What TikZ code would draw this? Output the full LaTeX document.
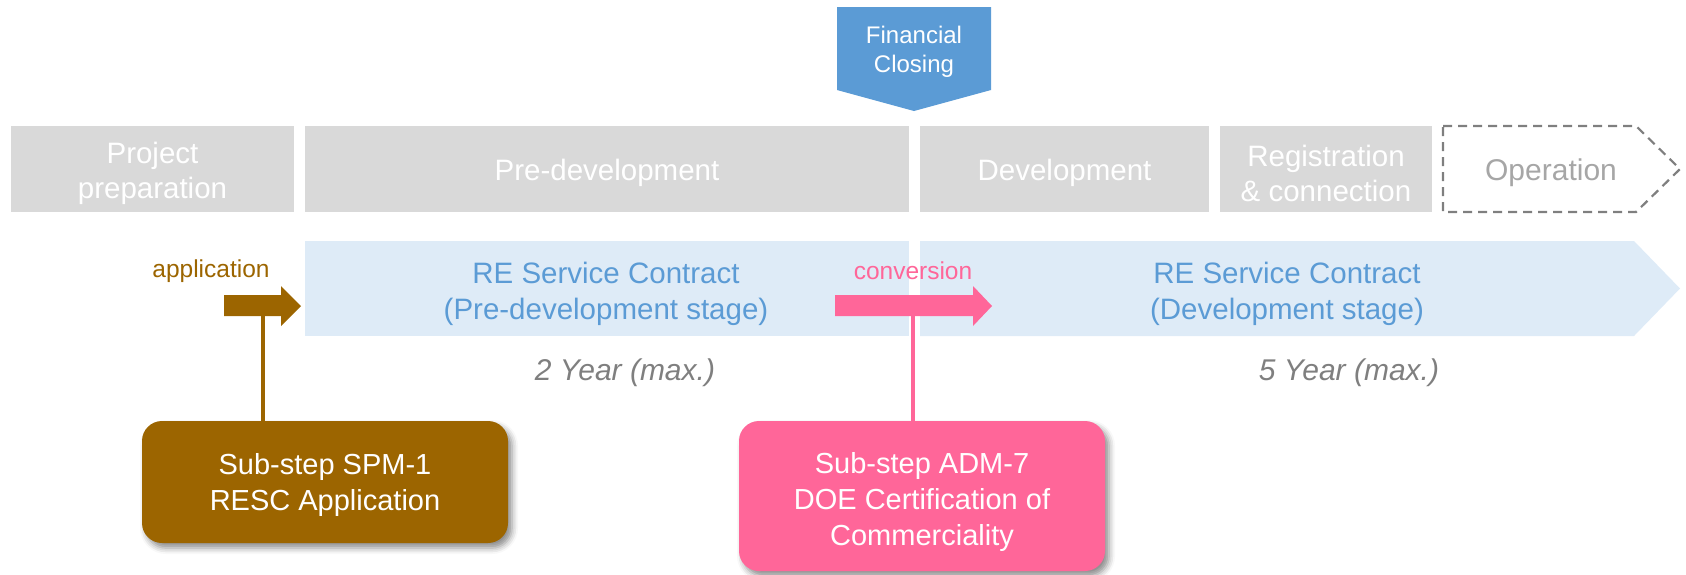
\documentclass[tikz,border=0pt]{standalone}
\usepackage{fontspec}
\setmainfont{Liberation Sans}
\usetikzlibrary{shadows.blur}
\definecolor{phgray}{HTML}{D9D9D9}
\definecolor{opgray}{HTML}{A6A6A6}
\definecolor{dashgray}{HTML}{7F7F7F}
\definecolor{bandblue}{HTML}{DEEBF7}
\definecolor{txtblue}{HTML}{5B9BD5}
\definecolor{fcblue}{HTML}{5B9BD5}
\definecolor{spmbrown}{HTML}{9C6500}
\definecolor{admpink}{HTML}{FF6699}
\definecolor{yeargray}{HTML}{7F7F7F}
\tikzset{
  phase/.style={fill=phgray, minimum height=86pt, inner sep=0pt},
  phasetext/.style={text=white, align=center, font=\fontsize{29.5}{35}\selectfont},
  bandtext/.style={text=txtblue, align=center, font=\fontsize{29.5}{36}\selectfont},
  yeartext/.style={text=yeargray, font=\fontsize{30}{34}\selectfont\itshape},
  steplabel/.style={font=\fontsize{24.5}{28}\selectfont},
  substep/.style={rounded corners=20pt, text=white, align=center, inner sep=0pt,
    font=\fontsize{29}{36}\selectfont,
    blur shadow={shadow xshift=4pt, shadow yshift=-5pt, shadow blur radius=6pt, shadow opacity=45}},
  leader/.style={line width=3.2pt}
}
\begin{document}
\begin{tikzpicture}[x=1pt,y=-1pt]
\useasboundingbox (0,0) rectangle (1686,574);

% Financial closing pentagon
\fill[fcblue] (837,7) -- (991,7) -- (991,90) -- (914,111) -- (837,90) -- cycle;
\node[text=white, align=center, font=\fontsize{24}{29}\selectfont] (fc) at (914,52) {Financial\\Closing};

% phases
\node[phase, minimum width=283pt] (prep) at (152.5,169) {};
\node[phasetext] (prept) at (152.5,173) {Project\\preparation};
\node[phase, minimum width=604pt] (predev) at (607,169) {};
\node[phasetext] (predevt) at (607,173) {Pre-development};
\node[phase, minimum width=289pt] (dev) at (1064.5,169) {};
\node[phasetext] (devt) at (1064.5,173) {Development};
\node[phase, minimum width=212pt] (reg) at (1326,169) {};
\node[phasetext] (regt) at (1326,173) {Registration\\\& connection};
\draw[dashgray, line width=2.2pt, dash pattern=on 9pt off 6pt]
  (1443,126) -- (1636,126) -- (1680,169) -- (1636,212) -- (1443,212) -- cycle;
\node[text=opgray, font=\fontsize{30}{35}\selectfont] (op) at (1551,173) {Operation};

% contract bands
\fill[bandblue] (305,241) rectangle (909,336);
\fill[bandblue] (920,241) -- (1634,241) -- (1680,288.5) -- (1634,336) -- (920,336) -- cycle;
\node[bandtext] (c1) at (606,294) {RE Service Contract\\(Pre-development stage)};
\node[bandtext] (c2) at (1287,294) {RE Service Contract\\(Development stage)};

\node[yeartext] (y1) at (625,373) {2 Year (max.)};
\node[yeartext] (y2) at (1349,373) {5 Year (max.)};

% application arrow
\fill[spmbrown] (224,295) -- (281,295) -- (281,286) -- (301,306) -- (281,326) -- (281,316) -- (224,316) -- cycle;
\coordinate (appfoot) at (263,316);
\node[steplabel, text=spmbrown] (applbl) at (211,271) {application};

% conversion arrow
\fill[admpink] (835,295) -- (973,295) -- (973,286) -- (992,306) -- (973,326) -- (973,316) -- (835,316) -- cycle;
\coordinate (convfoot) at (913,316);
\node[steplabel, text=admpink] (convlbl) at (913,271) {conversion};

% sub-step boxes
\node[substep, fill=spmbrown, minimum width=366pt, minimum height=122pt] (spm) at (325,482) {};
\node[text=white, align=center, font=\fontsize{29}{36}\selectfont] (spmt) at (325,485) {Sub-step SPM-1\\RESC Application};
\node[substep, fill=admpink, minimum width=366pt, minimum height=150pt] (adm) at (922,496) {};
\node[text=white, align=center, font=\fontsize{29}{36}\selectfont] (admt) at (922,502) {Sub-step ADM-7\\DOE Certification of\\Commerciality};

% leaders
\draw[leader, spmbrown] (spm.north -| appfoot) -- (appfoot);
\draw[leader, admpink] (adm.north -| convfoot) -- (convfoot);
\end{tikzpicture}
\end{document}
